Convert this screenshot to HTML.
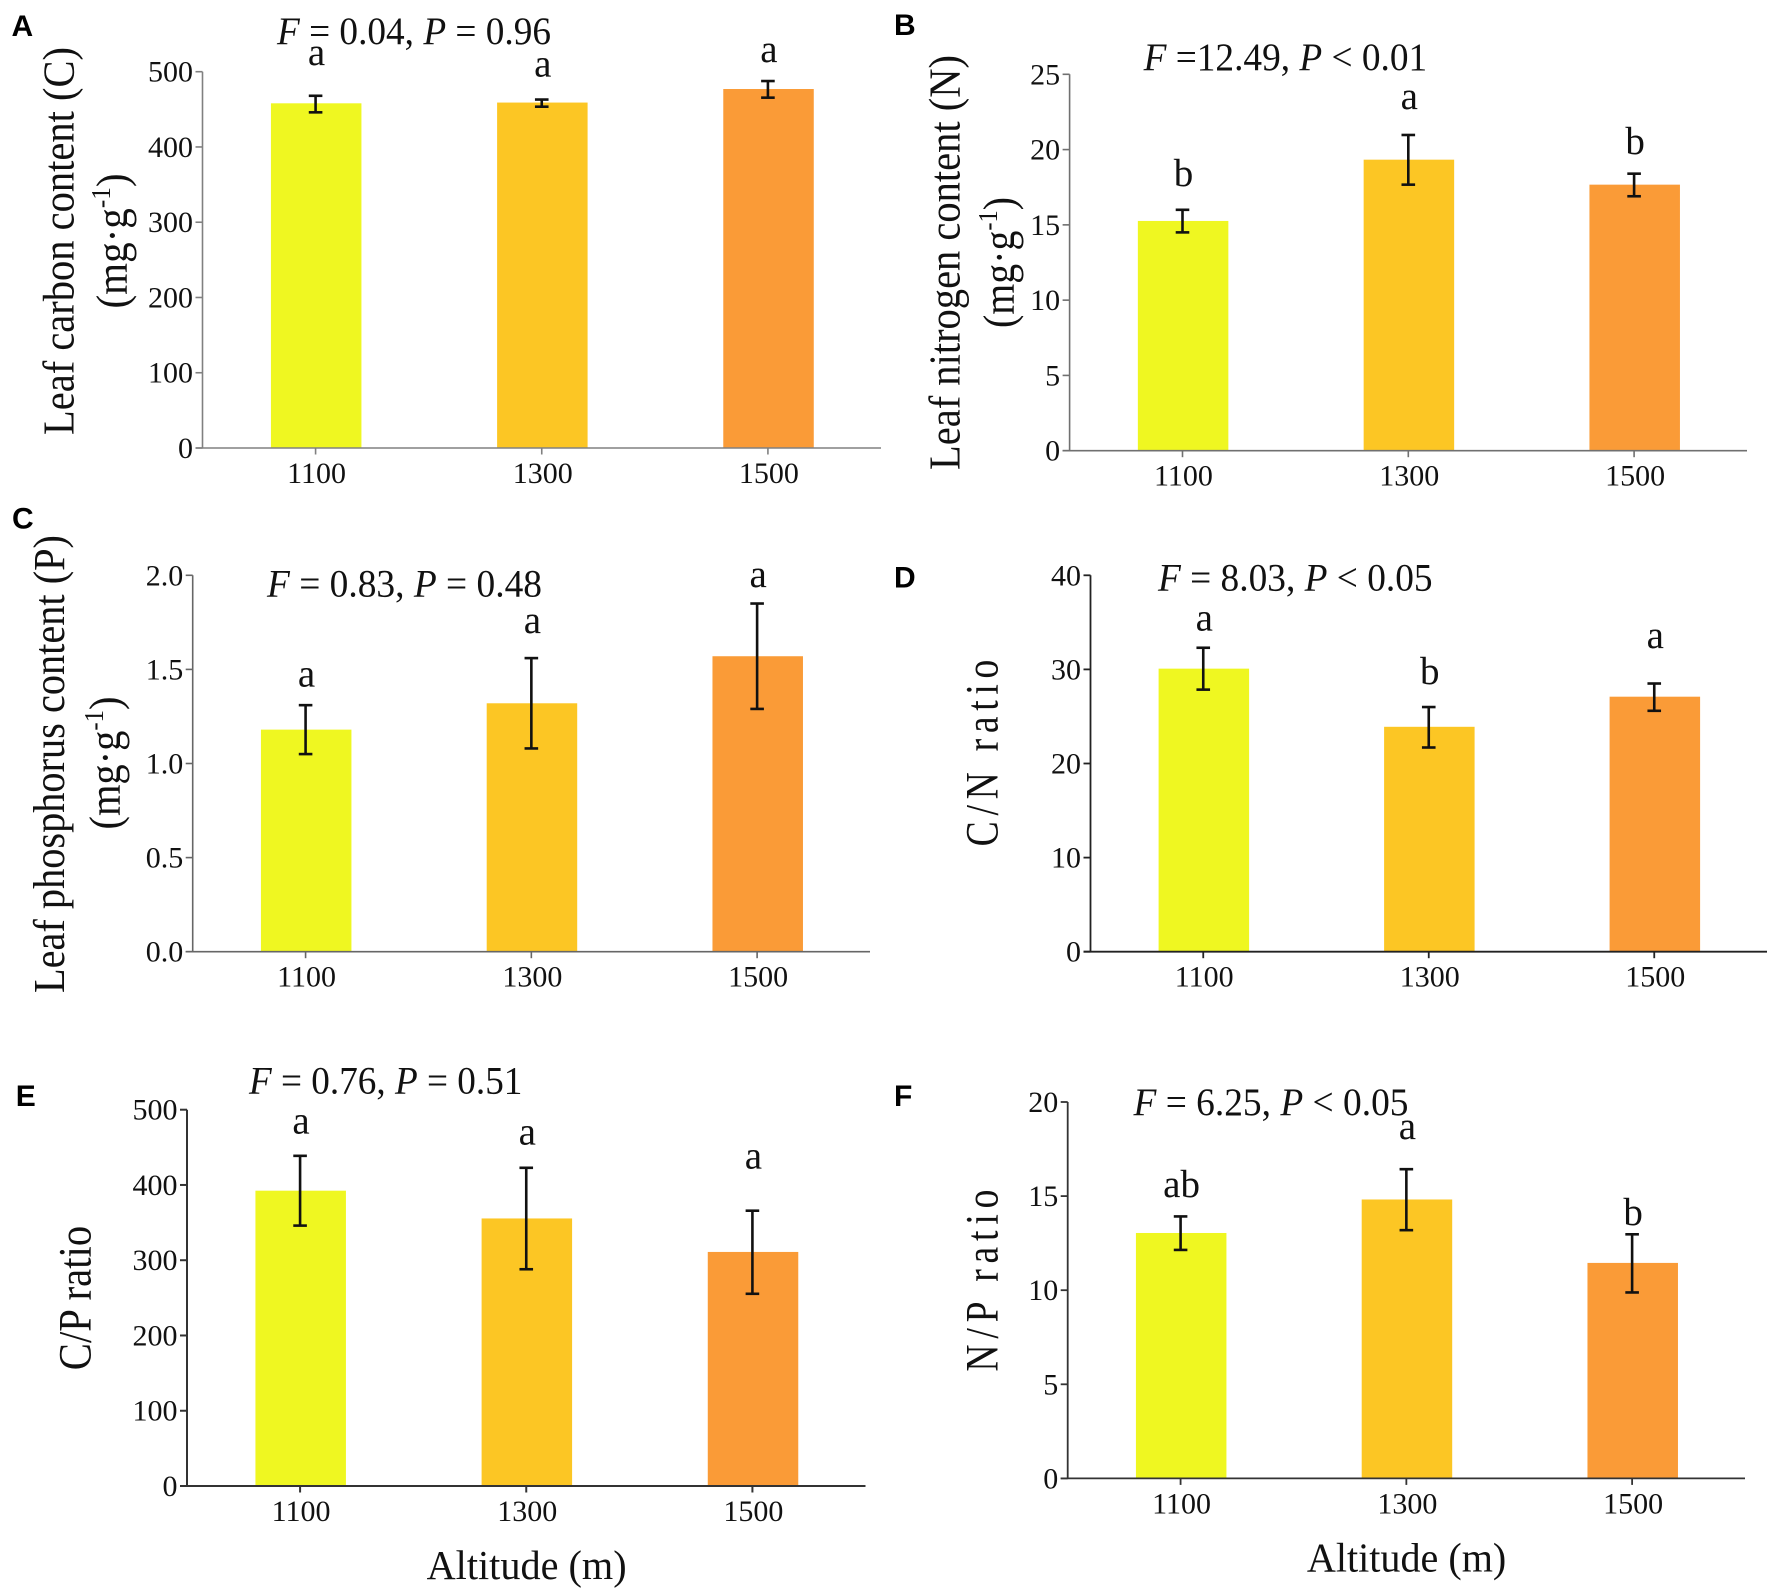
<!DOCTYPE html>
<html lang="en">
<head>
<meta charset="utf-8">
<title>Leaf stoichiometry by altitude</title>
<style>
html,body{margin:0;padding:0;background:#fff;}
svg{display:block;}
text{font-family:"Liberation Serif",serif;fill:#111;}
.panel-tag{font-family:"Liberation Sans",sans-serif;font-weight:700;font-size:30px;fill:#000;}
.stat{font-size:39px;}
.ytitle{font-size:44px;text-anchor:middle;}
.ytitle-big{font-size:47px;text-anchor:middle;}
.xtitle{font-size:41px;}
.tick{font-size:30px;}
.sig{font-size:39px;text-anchor:middle;}
.it{font-style:italic;}
</style>
</head>
<body>
<svg id="figure" width="1772" height="1592" viewBox="0 0 1772 1592" xmlns="http://www.w3.org/2000/svg">
  <rect x="0" y="0" width="1772" height="1592" fill="#fff"/>

  <text class="panel-tag" x="11.5" y="36">A</text>
  <text class="panel-tag" x="894" y="35">B</text>
  <text class="panel-tag" x="12" y="528.3">C</text>
  <text class="panel-tag" x="894" y="587.3">D</text>
  <text class="panel-tag" x="15.8" y="1106">E</text>
  <text class="panel-tag" x="894" y="1106">F</text>

  <text class="stat" x="277" y="44" textLength="274" lengthAdjust="spacingAndGlyphs"><tspan class="it">F</tspan> = 0.04, <tspan class="it">P</tspan> = 0.96</text>
  <text class="stat" x="1143.6" y="70" textLength="283.6" lengthAdjust="spacingAndGlyphs"><tspan class="it">F</tspan> =12.49, <tspan class="it">P</tspan> &lt; 0.01</text>
  <text class="stat" x="267" y="596.7" textLength="275" lengthAdjust="spacingAndGlyphs"><tspan class="it">F</tspan> = 0.83, <tspan class="it">P</tspan> = 0.48</text>
  <text class="stat" x="1158" y="590.7" textLength="274.6" lengthAdjust="spacingAndGlyphs"><tspan class="it">F</tspan> = 8.03, <tspan class="it">P</tspan> &lt; 0.05</text>
  <text class="stat" x="249" y="1093.5" textLength="273.4" lengthAdjust="spacingAndGlyphs"><tspan class="it">F</tspan> = 0.76, <tspan class="it">P</tspan> = 0.51</text>
  <text class="stat" x="1133.5" y="1115" textLength="275" lengthAdjust="spacingAndGlyphs"><tspan class="it">F</tspan> = 6.25, <tspan class="it">P</tspan> &lt; 0.05</text>

  <text class="ytitle" transform="translate(73.4,241) rotate(-90)" textLength="388" lengthAdjust="spacingAndGlyphs">Leaf carbon content (C)</text>
  <text class="ytitle" transform="translate(127,241) rotate(-90)" textLength="135" lengthAdjust="spacingAndGlyphs">(mg·g<tspan font-size="27" dy="-17">-1</tspan><tspan dy="17">)</tspan></text>
  <text class="ytitle" transform="translate(959.4,262.5) rotate(-90)" textLength="415" lengthAdjust="spacingAndGlyphs">Leaf nitrogen content (N)</text>
  <text class="ytitle" transform="translate(1014,262.5) rotate(-90)" textLength="131" lengthAdjust="spacingAndGlyphs">(mg·g<tspan font-size="27" dy="-17">-1</tspan><tspan dy="17">)</tspan></text>
  <text class="ytitle" transform="translate(63.8,764) rotate(-90)" textLength="458" lengthAdjust="spacingAndGlyphs">Leaf phosphorus content (P)</text>
  <text class="ytitle" transform="translate(119.8,763) rotate(-90)" textLength="133" lengthAdjust="spacingAndGlyphs">(mg·g<tspan font-size="27" dy="-17">-1</tspan><tspan dy="17">)</tspan></text>
  <text class="ytitle-big" transform="translate(997.3,753) rotate(-90) scale(0.8,1)" textLength="233.4">C/N ratio</text>
  <text class="ytitle-big" transform="translate(90.4,1298) rotate(-90)" textLength="144.4" lengthAdjust="spacingAndGlyphs">C/P ratio</text>
  <text class="ytitle-big" transform="translate(997.3,1280.6) rotate(-90) scale(0.8,1)" textLength="227.5">N/P ratio</text>

  <text class="xtitle" x="426.6" y="1579" textLength="200" lengthAdjust="spacingAndGlyphs">Altitude (m)</text>
  <text class="xtitle" x="1306.9" y="1571.7" textLength="199.4" lengthAdjust="spacingAndGlyphs">Altitude (m)</text>

  <g id="marks"></g>
</svg>

<script>
// Shared category data
const altitudes = ["1100", "1300", "1500"];
const barColors = ["#EFF721", "#FCC624", "#FA9B37"];

// Panel A: leaf carbon content
const carbonMeans = [458, 459, 477];
const carbonErrHigh = [468, 463, 487.6];
const carbonErrLow = [446, 453.5, 465.5];
const carbonTicks = [0, 100, 200, 300, 400, 500];
const carbonTickLabels = ["0", "100", "200", "300", "400", "500"];
const carbonLetters = ["a", "a", "a"];

// Panel B: leaf nitrogen content
const nitrogenMeans = [15.26, 19.33, 17.67];
const nitrogenErrHigh = [16.0, 20.97, 18.4];
const nitrogenErrLow = [14.5, 17.67, 16.9];
const nitrogenTicks = [0, 5, 10, 15, 20, 25];
const nitrogenTickLabels = ["0", "5", "10", "15", "20", "25"];
const nitrogenLetters = ["b", "a", "b"];

// Panel C: leaf phosphorus content
const phosphorusMeans = [1.18, 1.32, 1.57];
const phosphorusErrHigh = [1.31, 1.56, 1.85];
const phosphorusErrLow = [1.05, 1.08, 1.29];
const phosphorusTicks = [0, 0.5, 1, 1.5, 2];
const phosphorusTickLabels = ["0.0", "0.5", "1.0", "1.5", "2.0"];
const phosphorusLetters = ["a", "a", "a"];

// Panel D: C/N ratio
const cnMeans = [30.08, 23.9, 27.1];
const cnErrHigh = [32.3, 26.0, 28.5];
const cnErrLow = [27.85, 21.7, 25.6];
const cnTicks = [0, 10, 20, 30, 40];
const cnTickLabels = ["0", "10", "20", "30", "40"];
const cnLetters = ["a", "b", "a"];

// Panel E: C/P ratio
const cpMeans = [392.4, 355.5, 311];
const cpErrHigh = [438.7, 422.8, 365.8];
const cpErrLow = [346, 288, 255.4];
const cpTicks = [0, 100, 200, 300, 400, 500];
const cpTickLabels = ["0", "100", "200", "300", "400", "500"];
const cpLetters = ["a", "a", "a"];

// Panel F: N/P ratio
const npMeans = [13.04, 14.82, 11.45];
const npErrHigh = [13.92, 16.43, 12.97];
const npErrLow = [12.14, 13.19, 9.88];
const npTicks = [0, 5, 10, 15, 20];
const npTickLabels = ["0", "5", "10", "15", "20"];
const npLetters = ["ab", "a", "b"];

const panels = [
  {id:"a", left:202.5, right:881,  top:71.7,  base:448,    max:500, axis:"#808080", sw:1.6, gaps:[30.7,23,19],     means:carbonMeans,     hi:carbonErrHigh,     lo:carbonErrLow,     ticks:carbonTicks,     labels:carbonTickLabels,     letters:carbonLetters},
  {id:"b", left:1069.6,right:1747, top:74.3,  base:450.7,  max:25,  axis:"#707070", sw:1.6, gaps:[23.7,26,19.7],   means:nitrogenMeans,   hi:nitrogenErrHigh,   lo:nitrogenErrLow,   ticks:nitrogenTicks,   labels:nitrogenTickLabels,   letters:nitrogenLetters},
  {id:"c", left:192.7, right:870,  top:575.3, base:951.7,  max:2,   axis:"#666666", sw:1.6, gaps:[18.7,25.3,16.3], means:phosphorusMeans, hi:phosphorusErrHigh, lo:phosphorusErrLow, ticks:phosphorusTicks, labels:phosphorusTickLabels, letters:phosphorusLetters},
  {id:"d", left:1090.5,right:1767, top:575.3, base:951.7,  max:40,  axis:"#222222", sw:1.8, gaps:[17.3,23,35.7],   means:cnMeans,         hi:cnErrHigh,         lo:cnErrLow,         ticks:cnTicks,         labels:cnTickLabels,         letters:cnLetters},
  {id:"e", left:187,   right:865.5,top:1109.7,base:1486,   max:500, axis:"#333333", sw:2,   gaps:[22.2,23.2,42],   means:cpMeans,         hi:cpErrHigh,         lo:cpErrLow,         ticks:cpTicks,         labels:cpTickLabels,         letters:cpLetters},
  {id:"f", left:1067.7,right:1745, top:1102,  base:1478.4, max:20,  axis:"#333333", sw:1.8, gaps:[19.4,30,9.5],    means:npMeans,         hi:npErrHigh,         lo:npErrLow,         ticks:npTicks,         labels:npTickLabels,         letters:npLetters}
];

const NS = "http://www.w3.org/2000/svg";
const BAR_WIDTH = 90.5;
const CAP_HALF = 6.8;
const ERR_WIDTH = 2.6;

function add(parent, tag, name, attrs, content) {
  const el = document.createElementNS(NS, tag);
  for (const k in attrs) el.setAttribute(k, attrs[k]);
  
  
  if (content !== undefined) el.textContent = content;
  parent.appendChild(el);
  return el;
}

const root = document.getElementById("marks");

panels.forEach(function (p) {
  const yScale = function (v) { return p.base - (v / p.max) * (p.base - p.top); };
  const band = (p.right - p.left) / altitudes.length;
  const xScale = function (i) { return p.left + (i + 0.5) * band; };
  const g = add(root, "g", "panel-" + p.id, {});

  altitudes.forEach(function (cat, i) {
    const cx = xScale(i);
    const yTop = yScale(p.means[i]);
    add(g, "rect", "bar-" + p.id + "-" + cat, {
      x: cx - BAR_WIDTH / 2 + 0.6, y: yTop, width: BAR_WIDTH, height: p.base - yTop, fill: barColors[i]
    });
  });

  add(g, "line", "y-axis-line-" + p.id, {x1: p.left, x2: p.left, y1: p.top, y2: p.base, stroke: p.axis, "stroke-width": p.sw});
  add(g, "line", "x-axis-line-" + p.id, {x1: p.left - 7, x2: p.right, y1: p.base, y2: p.base, stroke: p.axis, "stroke-width": p.sw});

  p.ticks.forEach(function (t, i) {
    const y = yScale(t);
    add(g, "line", "y-tick-" + p.id + "-" + p.labels[i], {x1: p.left - 7, x2: p.left, y1: y, y2: y, stroke: p.axis, "stroke-width": p.sw});
    add(g, "text", "y-tick-label-" + p.id + "-" + p.labels[i], {class: "tick", x: p.left - 9.5, y: y + 10, "text-anchor": "end"}, p.labels[i]);
  });

  altitudes.forEach(function (cat, i) {
    const cx = xScale(i);
    add(g, "line", "x-tick-" + p.id + "-" + cat, {x1: cx, x2: cx, y1: p.base, y2: p.base + 6.5, stroke: p.axis, "stroke-width": p.sw});
    add(g, "text", "x-tick-label-" + p.id + "-" + cat, {class: "tick", x: cx + 1, y: p.base + 35, "text-anchor": "middle"}, cat);

    const yHi = yScale(p.hi[i]);
    const yLo = yScale(p.lo[i]);
    add(g, "line", "error-stem-" + p.id + "-" + cat, {x1: cx, x2: cx, y1: yHi, y2: yLo, stroke: "#111", "stroke-width": ERR_WIDTH});
    add(g, "line", "error-cap-high-" + p.id + "-" + cat, {x1: cx - CAP_HALF, x2: cx + CAP_HALF, y1: yHi, y2: yHi, stroke: "#111", "stroke-width": ERR_WIDTH});
    add(g, "line", "error-cap-low-" + p.id + "-" + cat, {x1: cx - CAP_HALF, x2: cx + CAP_HALF, y1: yLo, y2: yLo, stroke: "#111", "stroke-width": ERR_WIDTH});

    add(g, "text", "significance-letter-" + p.id + "-" + cat, {class: "sig", x: cx + 1, y: yHi - p.gaps[i]}, p.letters[i]);
  });
});
</script>
</body>
</html>
